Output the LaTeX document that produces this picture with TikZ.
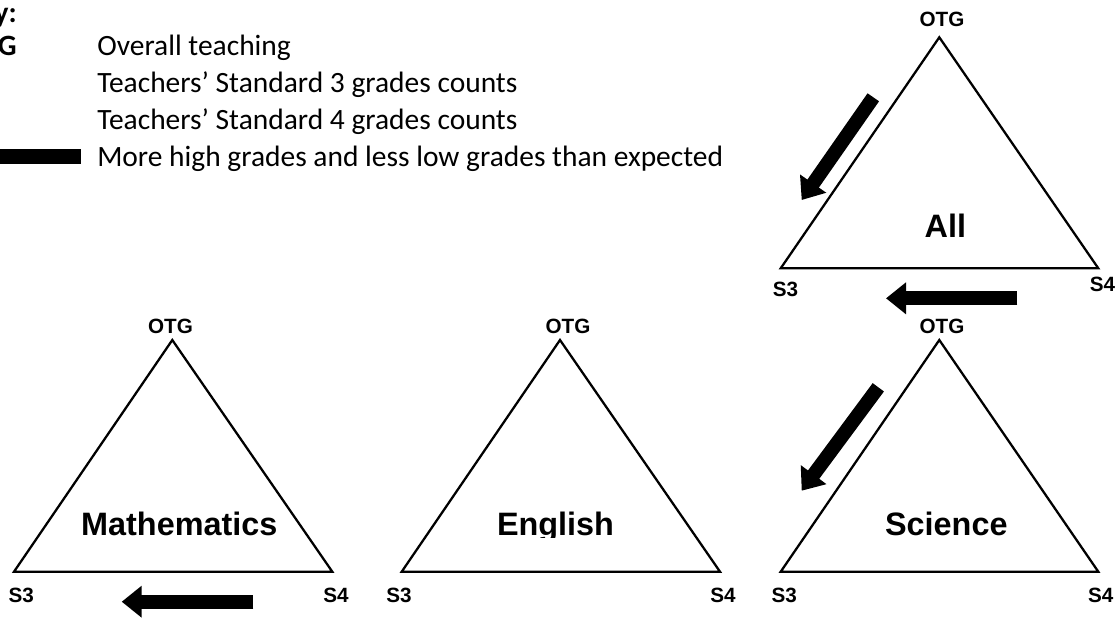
\documentclass[tikz,border=0pt]{standalone}
\usepackage{fontspec}
\setmainfont{Carlito}
\newfontfamily\arialfont{Liberation Sans}
\usetikzlibrary{arrows.meta}
\begin{document}
\begin{tikzpicture}[x=0.75pt,y=-0.75pt,
  tri/.style={draw=black, line width=1.7pt, line join=miter},
  vlabel/.style={font=\arialfont\bfseries\fontsize{15.5}{17}\selectfont, inner sep=0pt, anchor=base},
  subj/.style={font=\arialfont\bfseries\fontsize{24.3}{27}\selectfont, inner sep=0pt, anchor=base},
  keytext/.style={font=\fontsize{22.1}{26}\selectfont, inner sep=0pt, anchor=base west},
  keyhead/.style={font=\bfseries\fontsize{22.1}{26}\selectfont, inner sep=0pt, anchor=base east},
  blockarrow/.style={line width=10.5pt, line cap=butt, -{Triangle[length=15pt,width=23pt]}}
]
\fill[white] (0,0) rectangle (1117,618);
\clip (0,0) rectangle (1117,618);

% ---------- Key ----------
\node[keyhead] (keyk) at (17,22) {Key:};
\node[keyhead] (keyotg) at (17,55) {OTG};
\node[keytext] (k1) at (97,55) {Overall teaching};
\node[keytext] (k2) at (97,92) {Teachers’ Standard 3 grades counts};
\node[keytext] (k3) at (97,129) {Teachers’ Standard 4 grades counts};
\node[keytext] (k4) at (97,166) {More high grades and less low grades than expected};
\fill[black] (-10,149) rectangle (81,164);

% ---------- All ----------
\coordinate (aA) at (939.3,37.3);
\coordinate (aL) at (780.7,268.3);
\coordinate (aR) at (1098.3,268.3);
\draw[tri] (aA) -- (aL) -- (aR) -- cycle;
\node[vlabel] (aOTG) at (942,26.5) {OTG};
\node[vlabel] (aS3) at (785.5,296.7) {S3};
\node[vlabel] (aS4) at (1102.5,291.7) {S4};
\node[subj] (aT) at (945.3,237.3) {All};
\coordinate (aD1) at (873.3,97.3);
\coordinate (aD2) at (801.7,200);
\draw[blockarrow] (aD1) -- (aD2);
\coordinate (aB1) at (1017.3,298.3);
\coordinate (aB2) at (886,298.3);
\draw[blockarrow] (aB1) -- (aB2);

% ---------- Mathematics ----------
\coordinate (mA) at (172.3,340);
\coordinate (mL) at (14,571.7);
\coordinate (mR) at (332.3,571.7);
\draw[tri] (mA) -- (mL) -- (mR) -- cycle;
\node[vlabel] (mOTG) at (170.5,333) {OTG};
\node[vlabel] (mS3) at (21.3,602.3) {S3};
\node[vlabel] (mS4) at (336,602.3) {S4};
\node[subj] (mT) at (179.3,535) {Mathematics};
\coordinate (mB1) at (253.3,601.7);
\coordinate (mB2) at (121.7,601.7);
\draw[blockarrow] (mB1) -- (mB2);

% ---------- English ----------
\coordinate (eA) at (560,340);
\coordinate (eL) at (401.7,571.7);
\coordinate (eR) at (720,571.7);
\draw[tri] (eA) -- (eL) -- (eR) -- cycle;
\node[vlabel] (eOTG) at (568,333) {OTG};
\node[vlabel] (eS3) at (399,602.3) {S3};
\node[vlabel] (eS4) at (723,602.3) {S4};
\begin{scope}
  \clip (480,495) rectangle (640,537.5);
  \node[subj] (eT) at (555.5,535) {English};
\end{scope}

% ---------- Science ----------
\coordinate (sA) at (939.3,340);
\coordinate (sL) at (780.7,571.7);
\coordinate (sR) at (1098.3,571.7);
\draw[tri] (sA) -- (sL) -- (sR) -- cycle;
\node[vlabel] (sOTG) at (942,333) {OTG};
\node[vlabel] (sS3) at (784.2,602.3) {S3};
\node[vlabel] (sS4) at (1100.7,602.3) {S4};
\node[subj] (sT) at (946.3,535) {Science};
\coordinate (sD1) at (878.3,387.3);
\coordinate (sD2) at (801.7,490.7);
\draw[blockarrow] (sD1) -- (sD2);
\end{tikzpicture}
\end{document}
